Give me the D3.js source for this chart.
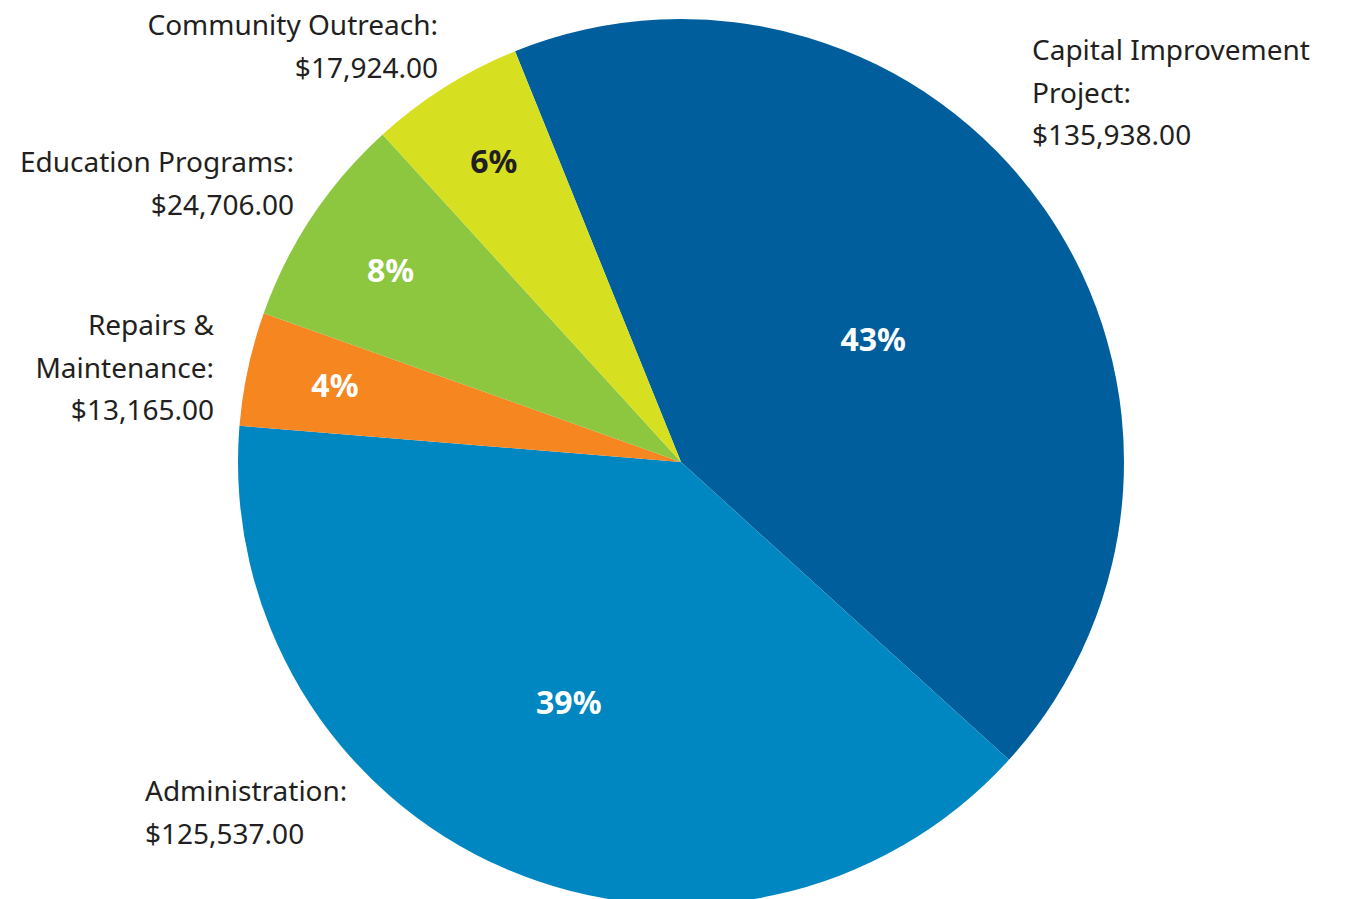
<!DOCTYPE html>
<head>
    <title>Budget Pie</title>
    <meta charset="utf-8">
    <style>
        body { margin: 0; background: #fff; }
        text { font-family: "Noto Sans", "Open Sans", sans-serif; }
    </style>
</head>

<body>

<div id="chart"></div>

<script src="https://d3js.org/d3.v7.min.js"></script>

<script>

var width = 1346,
    height = 899;

// data
var categories = ["Capital Improvement Project", "Administration", "Repairs & Maintenance", "Education Programs", "Community Outreach"];
var amounts = [135938, 125537, 13165, 24706, 17924];
var percentLabels = ["43%", "39%", "4%", "8%", "6%"];
var labelLines = [
    ["Capital Improvement", "Project:"],
    ["Administration:"],
    ["Repairs &", "Maintenance:"],
    ["Education Programs:"],
    ["Community Outreach:"]
];

// styling / layout
var colors = ["#005e9c", "#0087c1", "#f58620", "#8dc63f", "#d7df21"];
var pctColors = ["#fff", "#fff", "#fff", "#fff", "#231f20"];
var pctRadius = [0.515, 0.6, 0.8, 0.785, 0.8];
var pctShift = [2.3, 1.5, 0.3, -0.3, 0.3]; // degrees
var outerPos = [
    { x: 1032, y: 60, anchor: "start" },
    { x: 145, y: 801, anchor: "start" },
    { x: 214, y: 335, anchor: "end" },
    { x: 294, y: 172, anchor: "end" },
    { x: 438, y: 35, anchor: "end" }
];

var cx = 681, cy = 462, radius = 443;
var lineGap = 42.5;

var svg = d3.select("#chart").append("svg")
    .attr("width", width)
    .attr("height", height);

var g = svg.append("g")
    .attr("transform", "translate(" + cx + "," + cy + ")");

var pie = d3.pie()
    .sort(null)
    .startAngle(-22 * Math.PI / 180)
    .endAngle(338 * Math.PI / 180);

var arcs = pie(amounts);

var arc = d3.arc().innerRadius(0).outerRadius(radius);

g.selectAll("path")
    .data(arcs)
    .enter().append("path")
    .attr("d", arc)
    .attr("fill", function(d, i) { return colors[i]; });

// percentage labels
g.selectAll("text.pct")
    .data(arcs)
    .enter().append("text")
    .attr("class", "pct")
    .attr("transform", function(d, i) {
        var r = radius * pctRadius[i];
        var a = (d.startAngle + d.endAngle) / 2 + pctShift[i] * Math.PI / 180;
        return "translate(" + (Math.sin(a) * r) + "," + (-Math.cos(a) * r) + ")";
    })
    .attr("text-anchor", "middle")
    .attr("dy", "0.36em")
    .style("font-size", "32px")
    .style("font-weight", "bold")
    .attr("fill", function(d, i) { return pctColors[i]; })
    .text(function(d, i) { return percentLabels[i]; });

// outer labels
var fmt = d3.format(",.2f");
categories.forEach(function(c, i) {
    var lines = labelLines[i].concat(["$" + fmt(amounts[i])]);
    var t = svg.append("text")
        .attr("x", outerPos[i].x)
        .attr("y", outerPos[i].y)
        .attr("text-anchor", outerPos[i].anchor)
        .attr("fill", "#231f20")
        .style("font-size", "28px");
    lines.forEach(function(l, j) {
        t.append("tspan")
            .attr("x", outerPos[i].x)
            .attr("y", outerPos[i].y + j * lineGap)
            .text(l);
    });
});

</script>

</body>
</html>
